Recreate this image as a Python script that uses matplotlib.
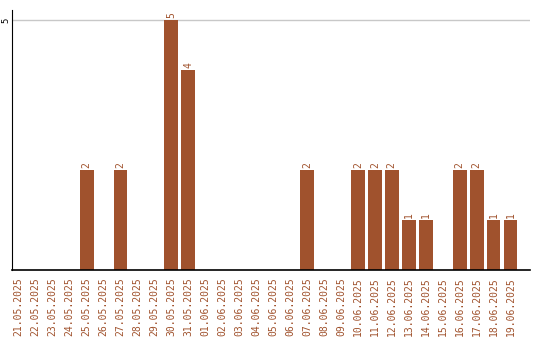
import matplotlib
matplotlib.use("Agg")
import matplotlib.pyplot as plt
import numpy as np

dates = ["21.05.2025", "22.05.2025", "23.05.2025", "24.05.2025", "25.05.2025",
         "26.05.2025", "27.05.2025", "28.05.2025", "29.05.2025", "30.05.2025",
         "31.05.2025", "01.06.2025", "02.06.2025", "03.06.2025", "04.06.2025",
         "05.06.2025", "06.06.2025", "07.06.2025", "08.06.2025", "09.06.2025",
         "10.06.2025", "11.06.2025", "12.06.2025", "13.06.2025", "14.06.2025",
         "15.06.2025", "16.06.2025", "17.06.2025", "18.06.2025", "19.06.2025"]
counts = [0, 0, 0, 0, 2, 0, 2, 0, 0, 5,
          4, 0, 0, 0, 0, 0, 0, 2, 0, 0,
          2, 2, 2, 1, 1, 0, 2, 2, 1, 1]

color = "#A0522D"

fig = plt.figure(figsize=(5.4, 3.4), dpi=100)
ax = fig.add_axes([12/540, 70/340, 518/540, 260/340])

x = np.arange(len(dates))
ax.bar(x, counts, width=0.82, color=color, zorder=2)
for xi, v in zip(x, counts):
    if v > 0:
        ax.text(xi, v + 0.05, str(v), rotation=90, ha="center", va="bottom",
                color=color, fontsize=7, family="DejaVu Sans Mono")

ax.set_xlim(-0.4, len(dates) - 1 + 1.15)
ax.set_ylim(0, 5.2)
ax.set_yticks([5])
ax.set_yticklabels(["5"], rotation=90, va="center", fontsize=6.5,
                   family="DejaVu Sans Mono")
ax.yaxis.grid(True, color="#c8c8c8", linewidth=1, zorder=0)
ax.tick_params(axis="y", length=0, pad=1)

ax.set_xticks(x)
ax.set_xticklabels(dates, rotation=90, fontsize=7, color=color,
                   family="DejaVu Sans Mono")
ax.tick_params(axis="x", length=0, pad=5)

for s in ["top", "right"]:
    ax.spines[s].set_visible(False)
ax.spines["left"].set_color("black")
ax.spines["bottom"].set_color("black")
ax.spines["bottom"].set_linewidth(1.2)

fig.savefig("out.png", dpi=100)
